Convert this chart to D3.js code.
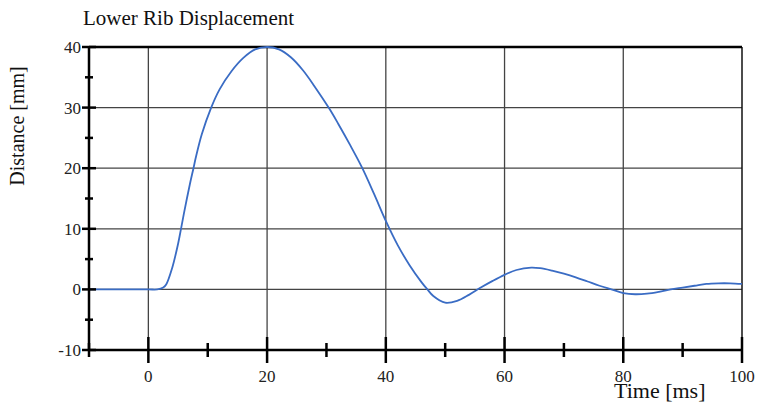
<!DOCTYPE html>
<html>
<head>
<meta charset="utf-8">
<script src="https://cdn.jsdelivr.net/npm/d3@7"></script>
<style>
  body { margin: 0; background: #fff; }
  svg { font-family: "Liberation Serif", "Times New Roman", serif; }
</style>
</head>
<body>
<div id="chart"></div>
<script>
// data
var timeMs = [-10, 0, 1.5, 2.5, 3, 4, 5, 5.5, 6, 7, 7.6, 8, 9, 10.5, 12, 14, 16, 18, 20, 22, 24, 26, 28, 30.5, 32, 34, 36, 38, 40, 42, 44, 46, 47, 48, 50, 52, 54, 56, 58, 60, 62, 64.5, 66, 68, 70, 72, 74, 76, 78, 80, 82, 84, 86, 88, 90, 92, 94, 96, 98, 100];
var distMm = [0, 0, 0, 0.3, 0.8, 3.5, 7.5, 10, 12.6, 17.4, 20, 21.8, 25.6, 29.8, 33, 36, 38.2, 39.6, 40, 39.6, 38.3, 36.2, 33.5, 29.8, 27.3, 23.8, 20.1, 15.8, 11.3, 7.3, 4.0, 1.2, 0, -1.1, -2.2, -1.9, -0.9, 0.3, 1.4, 2.4, 3.2, 3.6, 3.5, 3.1, 2.6, 2.0, 1.3, 0.6, 0, -0.6, -0.8, -0.7, -0.4, 0, 0.3, 0.6, 0.9, 1.0, 1.0, 0.9];

var xMajor = [0, 20, 40, 60, 80, 100];
var xMinor = [-10, 10, 30, 50, 70, 90];
var yMajor = [-10, 0, 10, 20, 30, 40];
var yMinor = [-5, 5, 15, 25, 35];
var xGrid = [0, 20, 40, 60, 80];
var yGrid = [0, 10, 20, 30];

var width = 757, height = 404;
var plotL = 89, plotR = 742, plotT = 47, plotB = 350;

var x = d3.scaleLinear().domain([-10, 100]).range([plotL, plotR]);
var y = d3.scaleLinear().domain([-10, 40]).range([plotB, plotT]);

var svg = d3.select("#chart").append("svg")
    .attr("width", width)
    .attr("height", height);

// grid
svg.append("g").selectAll("line").data(xGrid).enter().append("line")
    .attr("x1", function(d) { return x(d); })
    .attr("x2", function(d) { return x(d); })
    .attr("y1", plotT).attr("y2", plotB)
    .attr("stroke", "#444").attr("stroke-width", 1.3);

svg.append("g").selectAll("line").data(yGrid).enter().append("line")
    .attr("x1", plotL).attr("x2", plotR)
    .attr("y1", function(d) { return y(d); })
    .attr("y2", function(d) { return y(d); })
    .attr("stroke", "#444").attr("stroke-width", 1.3);

// right border
svg.append("line")
    .attr("x1", x(100)).attr("x2", x(100))
    .attr("y1", plotT).attr("y2", plotB)
    .attr("stroke", "#111").attr("stroke-width", 1.5);

// top border
svg.append("line")
    .attr("x1", x(-10)).attr("x2", x(100))
    .attr("y1", y(40)).attr("y2", y(40))
    .attr("stroke", "#000").attr("stroke-width", 2.5);

// curve
var line = d3.line()
    .x(function(d, i) { return x(timeMs[i]); })
    .y(function(d) { return y(d); })
    .curve(d3.curveCatmullRom.alpha(0.5));

svg.append("path")
    .datum(distMm)
    .attr("fill", "none")
    .attr("stroke", "#3a6cc4")
    .attr("stroke-width", 1.8)
    .attr("d", line);

// left axis
var ax = svg.append("g").attr("stroke", "#000");
ax.append("line")
    .attr("x1", x(-10)).attr("x2", x(-10))
    .attr("y1", y(40)).attr("y2", y(-10))
    .attr("stroke-width", 2.5);
ax.selectAll(".ymaj").data(yMajor).enter().append("line")
    .attr("x1", x(-10) - 7).attr("x2", x(-10) + 7)
    .attr("y1", function(d) { return y(d); })
    .attr("y2", function(d) { return y(d); })
    .attr("stroke-width", 2.5);
ax.selectAll(".ymin").data(yMinor).enter().append("line")
    .attr("x1", x(-10) - 4).attr("x2", x(-10) + 4)
    .attr("y1", function(d) { return y(d); })
    .attr("y2", function(d) { return y(d); })
    .attr("stroke-width", 2.5);

// bottom axis
ax.append("line")
    .attr("x1", x(-10)).attr("x2", x(100))
    .attr("y1", y(-10)).attr("y2", y(-10))
    .attr("stroke-width", 2.5);
ax.selectAll(".xmaj").data(xMajor).enter().append("line")
    .attr("x1", function(d) { return x(d); })
    .attr("x2", function(d) { return x(d); })
    .attr("y1", y(-10) - 13).attr("y2", y(-10) + 13)
    .attr("stroke-width", 2.5);
ax.selectAll(".xmin").data(xMinor).enter().append("line")
    .attr("x1", function(d) { return x(d); })
    .attr("x2", function(d) { return x(d); })
    .attr("y1", y(-10) - 7).attr("y2", y(-10) + 7)
    .attr("stroke-width", 2.5);

// tick labels
svg.append("g").selectAll("text").data(yMajor).enter().append("text")
    .attr("x", x(-10) - 8)
    .attr("y", function(d) { return y(d) + 6; })
    .attr("text-anchor", "end")
    .attr("font-size", 17)
    .attr("fill", "#222")
    .text(function(d) { return d; });

svg.append("g").selectAll("text").data(xMajor).enter().append("text")
    .attr("x", function(d) { return x(d); })
    .attr("y", 382)
    .attr("text-anchor", "middle")
    .attr("font-size", 17)
    .attr("fill", "#222")
    .text(function(d) { return d; });

// titles
svg.append("text")
    .attr("x", 83).attr("y", 25)
    .attr("font-size", 21)
    .attr("fill", "#111")
    .text("Lower Rib Displacement");

svg.append("text")
    .attr("x", 614).attr("y", 398)
    .attr("font-size", 22)
    .attr("fill", "#111")
    .text("Time [ms]");

svg.append("text")
    .attr("transform", "translate(24,126) rotate(-90)")
    .attr("text-anchor", "middle")
    .attr("font-size", 20)
    .attr("fill", "#111")
    .text("Distance [mm]");
</script>
</body>
</html>
